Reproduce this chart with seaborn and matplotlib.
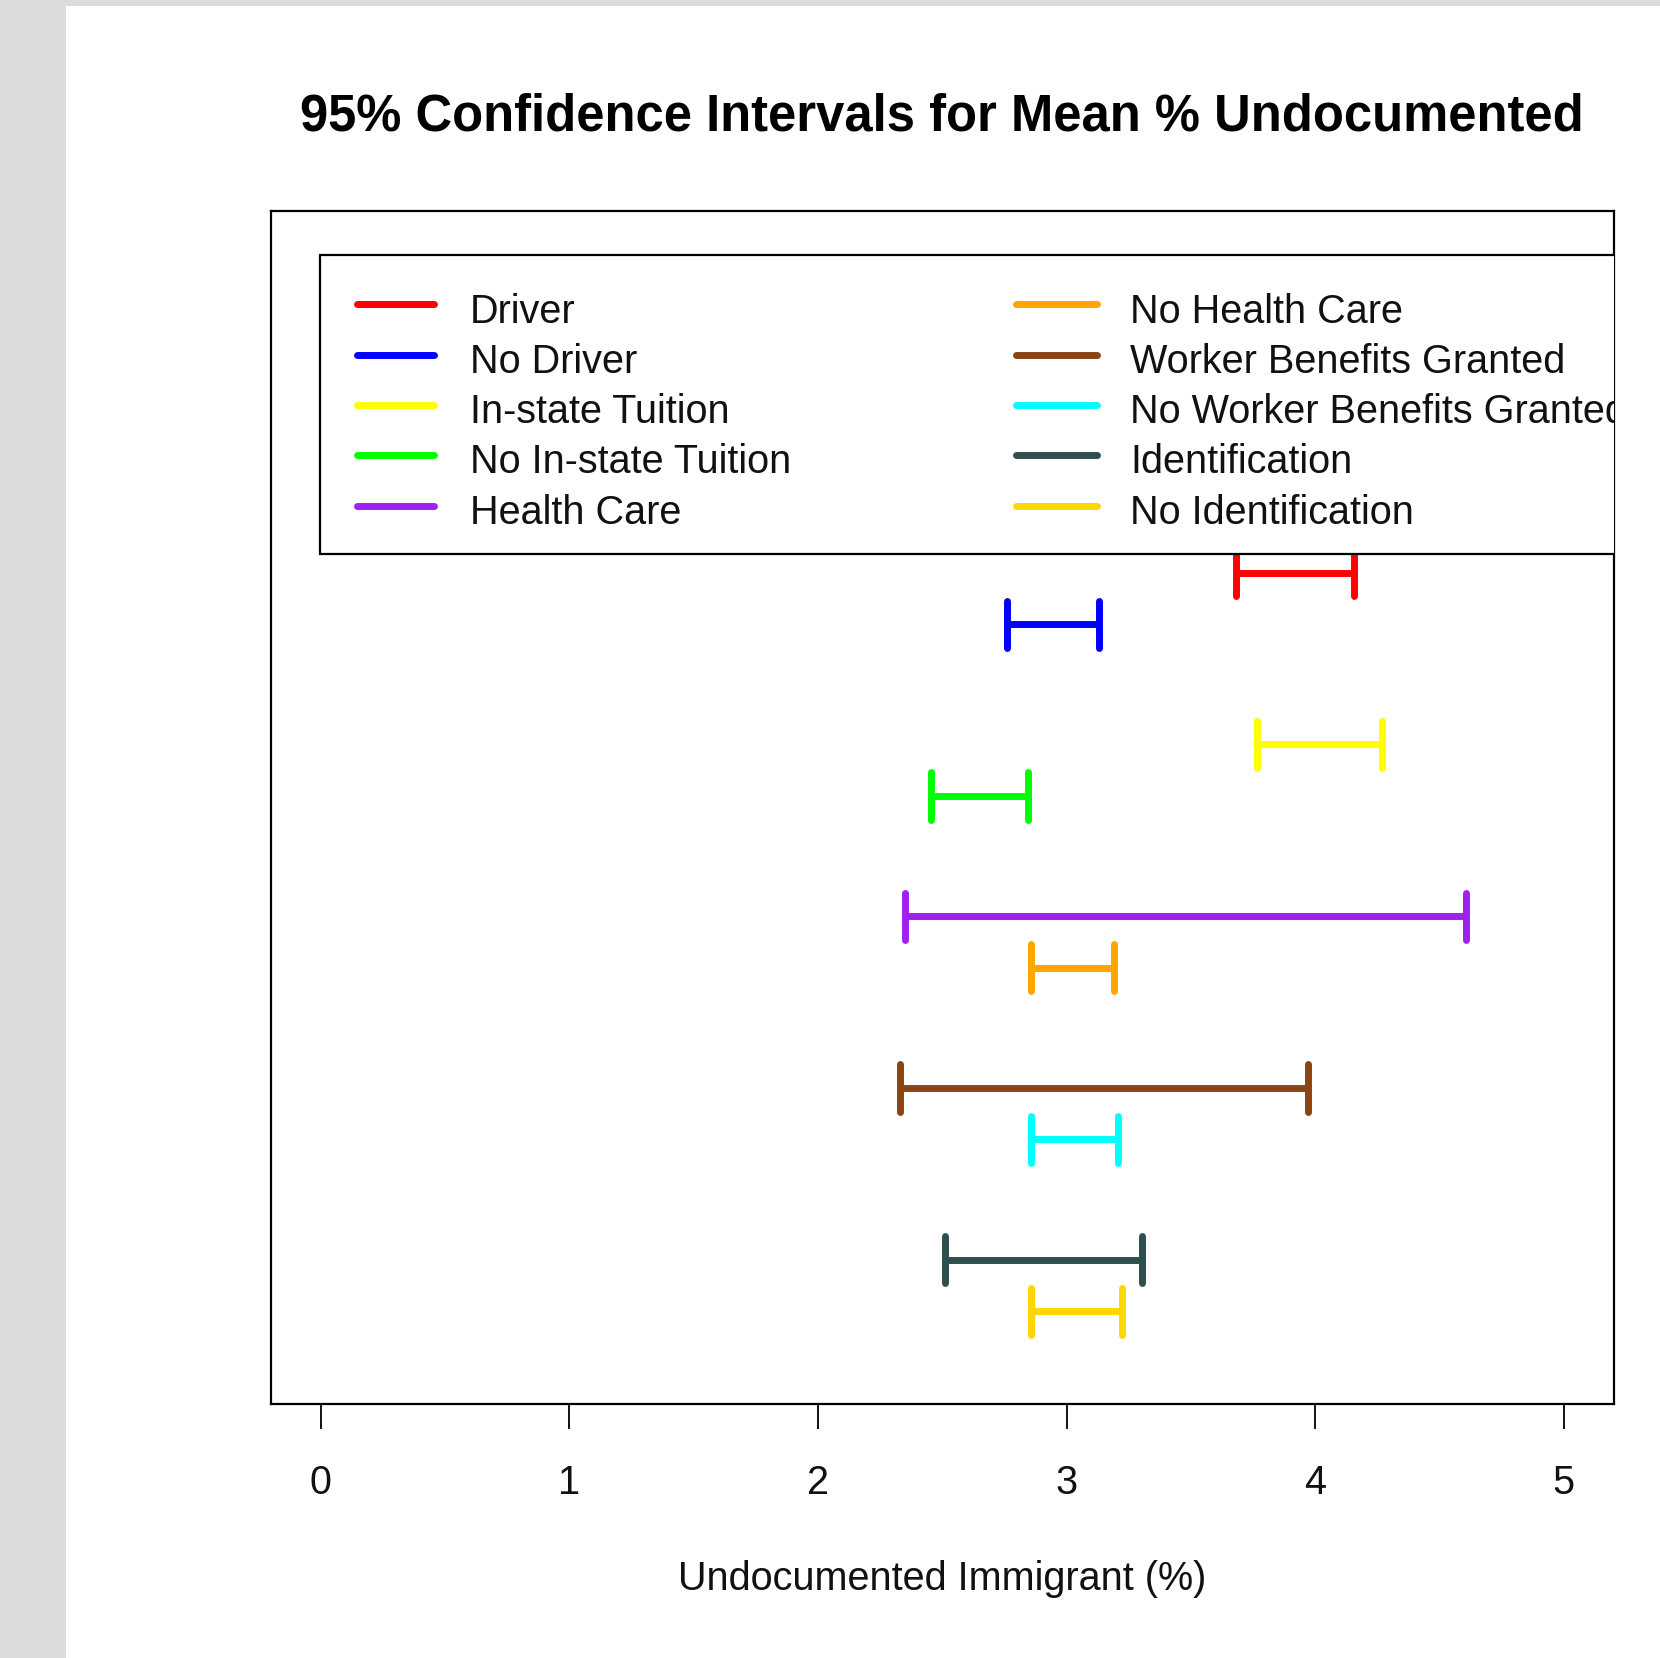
import matplotlib
matplotlib.use("Agg")
import matplotlib.pyplot as plt
from matplotlib.patches import Rectangle
import numpy as np
import pandas as pd
import seaborn as sns

# ---- data -------------------------------------------------------------
groups = ["Driver", "No Driver", "In-state Tuition", "No In-state Tuition",
          "Health Care", "No Health Care", "Worker Benefits Granted",
          "No Worker Benefits Granted", "Identification", "No Identification"]
lower = [3.68, 2.76, 3.765, 2.455, 2.35, 2.855, 2.33, 2.855, 2.51, 2.855]
upper = [4.155, 3.13, 4.27, 2.845, 4.605, 3.19, 3.97, 3.205, 3.305, 3.225]
colors = ["#FF0000", "#0000FF", "#FFFF00", "#00FF00", "#A020F0",
          "#FFA500", "#8B4513", "#00FFFF", "#2F4F4F", "#FFD700"]
xticks = [0, 1, 2, 3, 4, 5]
title = "95% Confidence Intervals for Mean % Undocumented"
xlabel = "Undocumented Immigrant (%)"

# each policy pair shares a band; the "No" variant sits just below
ypos = [5 - (i // 2) - 0.3 * (i % 2) for i in range(len(groups))]

long = pd.DataFrame({
    "group": groups * 2,
    "y": ypos * 2,
    "x": lower + upper,
})
palette = dict(zip(groups, colors))

# ---- figure -------------------------------------------------------------
sns.set_style("white")
plt.rcParams["font.family"] = ["Liberation Sans", "DejaVu Sans"]

W, H = 1660, 1658
fig = plt.figure(figsize=(W / 100, H / 100 + 0.001), dpi=100)
fig.patch.set_facecolor("#DCDCDC")
fig.add_artist(Rectangle((66 / W, 0), 1, 1 - 6 / H, transform=fig.transFigure,
                         facecolor="white", edgecolor="none", zorder=-10))

ax_l, ax_r, ax_t, ax_b = 271, 1613.5, 210.7, 1404
ax = fig.add_axes([ax_l / W, 1 - ax_b / H, (ax_r - ax_l) / W, (ax_b - ax_t) / H])
ax.set_facecolor("white")

lw = 5.0
sns.lineplot(data=long, x="x", y="y", hue="group", hue_order=groups,
             palette=palette, estimator=None, sort=False, units="group",
             linewidth=lw, legend=False, ax=ax, solid_capstyle="butt")
sns.scatterplot(data=long, x="x", y="y", hue="group", hue_order=groups,
                palette=palette, marker="|", s=34 ** 2, linewidth=lw,
                legend=False, ax=ax, zorder=3)
ax.collections[-1].set_capstyle("round")

ax.set_xlim(-0.2, 5.2)
ax.set_ylim(0.16, 7.108)

# ---- axes styling -------------------------------------------------------
for sp in ax.spines.values():
    sp.set_visible(True)
    sp.set_color("black")
    sp.set_linewidth(1.6)
ax.set_yticks([])
ax.set_ylabel("")
ax.set_xticks(xticks)
ax.set_xticklabels([str(t) for t in xticks])
ax.tick_params(axis="x", bottom=True, direction="out", length=18, width=1.3,
               color="black", pad=25, labelsize=28.5, labelcolor="#111111")
ax.set_xlabel(xlabel, fontsize=28.5, color="#111111")
ax.xaxis.label.set_va("baseline")
ax.xaxis.set_label_coords(0.5, -(1590 - ax_b) / (ax_b - ax_t))

fig.text((ax_l + ax_r) / 2 / W, 1 - 130 / H, title, ha="center",
         va="baseline", fontsize=36.5, fontweight="bold", color="black")

# ---- legend box, clipped at the plot frame -------------------------------
def fx(px):
    return (px - ax_l) / (ax_r - ax_l)

def fy(py):
    return (ax_b - py) / (ax_b - ax_t)

frame = Rectangle((fx(319.7), fy(554)), 1.5, fy(255) - fy(554),
                  transform=ax.transAxes, facecolor="white",
                  edgecolor="black", linewidth=1.6, zorder=4, clip_on=True)
ax.add_patch(frame)

row_y = [304.5 + 50.3 * k for k in range(5)]
cols = [(356.7, 434, 470), (1016, 1097, 1130)]
for i, (name, col) in enumerate(zip(groups, colors)):
    c, r = divmod(i, 5)
    x0, x1, xt = cols[c]
    yy = row_y[r]
    ax.plot([fx(x0), fx(x1)], [fy(yy), fy(yy)], transform=ax.transAxes,
            color=col, linewidth=lw, solid_capstyle="round", zorder=5,
            clip_on=True)
    ax.text(fx(xt), fy(yy + 18), name, transform=ax.transAxes,
            fontsize=28.5, color="#111111", ha="left", va="baseline",
            zorder=5, clip_on=True)

fig.savefig("out.png", dpi=100, facecolor=fig.get_facecolor())
